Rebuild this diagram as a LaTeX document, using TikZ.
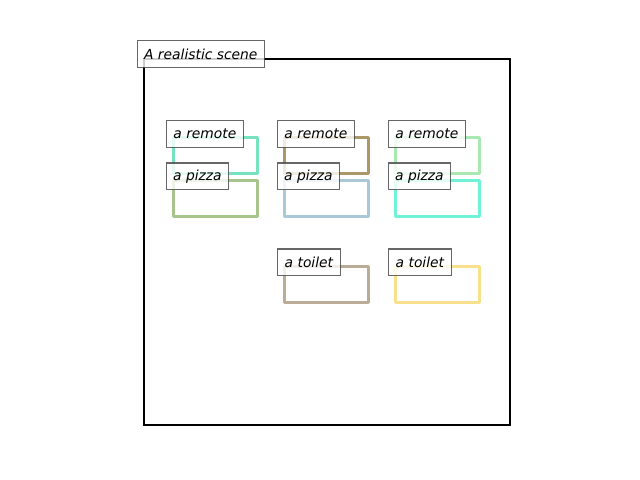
\documentclass[tikz,border=0pt]{standalone}
\usepackage{fontspec}
\setmainfont{DejaVu Sans}
\definecolor{cOneR}{RGB}{118,226,190}
\definecolor{cOneP}{RGB}{166,196,140}
\definecolor{cTwoR}{RGB}{170,152,104}
\definecolor{cTwoP}{RGB}{170,200,216}
\definecolor{cThreeR}{RGB}{170,232,178}
\definecolor{cThreeP}{RGB}{112,242,214}
\definecolor{cTwoT}{RGB}{186,172,150}
\definecolor{cThreeT}{RGB}{248,224,140}
\begin{document}
\begin{tikzpicture}[x=0.01in,y=-0.01in,
  objbox/.style={line width=2.2pt, line join=round},
  lbl/.style={draw=black!70, line width=0.75pt, fill=white, fill opacity=0.8, draw opacity=0.85, text opacity=1,
    anchor=north west, inner sep=0pt, minimum height=27*0.72pt,
    font=\fontsize{10}{12}\selectfont\itshape}]
\useasboundingbox (0,0) rectangle (640,480);
\draw[line width=1.5pt] (144,59) rectangle (510,425);
% object boxes
\draw[objbox, draw=cOneR] (173.5,137.5) rectangle (257.5,173.5);
\draw[objbox, draw=cOneP] (173.5,180.5) rectangle (257.5,216.5);
\draw[objbox, draw=cTwoR] (284.5,137.5) rectangle (368.5,173.5);
\draw[objbox, draw=cTwoP] (284.5,180.5) rectangle (368.5,216.5);
\draw[objbox, draw=cThreeR] (395.5,137.5) rectangle (479.5,173.5);
\draw[objbox, draw=cThreeP] (395.5,180.5) rectangle (479.5,216.5);
\draw[objbox, draw=cTwoT] (284.5,266.5) rectangle (368.5,302.5);
\draw[objbox, draw=cThreeT] (395.5,266.5) rectangle (479.5,302.5);
% labels
\node[lbl, minimum width=127*0.72pt] (title) at (137,40) {A realistic scene};
\node[lbl, minimum width=77*0.72pt] (r1) at (166,120) {a remote};
\node[lbl, minimum width=62*0.72pt] (p1) at (166,162.5) {a pizza};
\node[lbl, minimum width=77*0.72pt] (r2) at (277,120) {a remote};
\node[lbl, minimum width=62*0.72pt] (p2) at (277,162.5) {a pizza};
\node[lbl, minimum width=77*0.72pt] (r3) at (388,120) {a remote};
\node[lbl, minimum width=62*0.72pt] (p3) at (388,162.5) {a pizza};
\node[lbl, minimum width=63*0.72pt] (t2) at (277,248.5) {a toilet};
\node[lbl, minimum width=63*0.72pt] (t3) at (388,248.5) {a toilet};
\end{tikzpicture}
\end{document}
